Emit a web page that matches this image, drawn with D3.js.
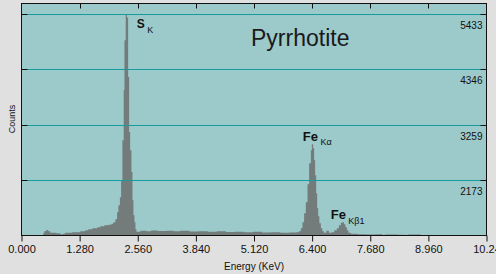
<!DOCTYPE html>
<html><head><meta charset="utf-8">
<script src="https://cdn.jsdelivr.net/npm/d3@7"></script>
<style>html,body{margin:0;padding:0;background:#e0e0e0;}svg{display:block;}</style>
</head><body><svg id="c" width="496" height="274"></svg>
<script>
const energyTicks = [0, 1.28, 2.56, 3.84, 5.12, 6.4, 7.68, 8.96, 10.24];
const energyTickLabels = ["0.000","1.280","2.560","3.840","5.120","6.400","7.680","8.960","10.24"];
const countTicks = [2173, 3259, 4346, 5433];
const countTickLabels = ["2173","3259","4346","5433"];
const countMin = 1086.6, countMax = 5649;

// spectrum: channel start energy (keV) and counts (step)
const energies = [0.00,0.48,0.50,0.545,0.59,0.633,0.766,0.854,0.92,0.964,1.119,1.295,1.405,1.472,1.56,1.671,1.737,1.825,1.913,1.98,
  2.024,2.068,2.105,2.134,2.167,2.194,2.222,2.251,2.267,2.295,2.322,2.348,2.37,2.392,2.421,2.443,2.465,2.487,2.509,2.531,
  2.62,2.75,2.85,3.0,3.2,3.35,3.5,3.7,3.9,4.1,4.3,4.5,4.7,4.9,5.1,5.3,5.5,5.7,5.9,6.05,6.107,
  6.151,6.188,6.224,6.261,6.299,6.334,6.372,6.394,6.422,6.444,6.466,6.489,6.511,6.533,6.559,6.592,6.625,6.659,6.714,6.769,
  6.835,6.89,6.945,6.989,7.034,7.067,7.1,7.133,7.166,7.199,7.254,7.4,7.6,7.8,7.95,8.0,8.3,8.45,8.5,8.79,10.24];
const counts = [1087,1132,1171,1197,1171,1142,1132,1112,1122,1142,1151,1171,1191,1210,1230,1250,1269,1289,1299,1318,
  1348,1407,1544,1682,1839,2173,2959,3941,4924,5425,5376,4203,3122,2763,2336,1780,1485,1348,1210,1161,
  1181,1171,1185,1175,1181,1171,1178,1165,1171,1161,1168,1155,1161,1151,1158,1146,1151,1142,1148,1151,1171,
  1230,1348,1525,1741,2095,2507,2763,2881,2802,2566,2271,1918,1623,1466,1328,1230,1171,1142,1181,1142,
  1151,1191,1230,1289,1338,1348,1309,1250,1191,1142,1122,1112,1106,1112,1087,1106,1102,1087,1106,1087,1087];

const peakNames = ["S","Fe","Fe"];
const peakSubs = ["K","K\u03b1","K\u03b21"];
const peakLabelE = [2.537, 6.193, 6.809];
const peakLabelC = [5161, 2951, 1405];

const svg = d3.select("#c");
const L = 21.5, R = 486.5, T = 3.5, B = 235.5;
const x = d3.scaleLinear().domain([0, 10.24]).range([L, R]);
const y = d3.scaleLinear().domain([countMin, countMax]).range([B, T]);

svg.append("rect").attr("x", L).attr("y", T).attr("width", R - L).attr("height", B - T).attr("fill", "#9cc9c9");

const data = energies.map((e, i) => ({e, c: counts[i]}));
svg.append("path").datum(data)
  .attr("fill", "#737b7b")
  .attr("d", d3.area().curve(d3.curveStepAfter).x(d => x(d.e)).y0(B).y1(d => y(d.c)));

// gridlines
svg.selectAll(".grid").data(countTicks).join("line")
  .attr("x1", L).attr("x2", R)
  .attr("y1", d => Math.floor(y(d)) + 0.5).attr("y2", d => Math.floor(y(d)) + 0.5)
  .attr("stroke", "#169c9c").attr("stroke-width", 1);

// frame
svg.append("rect").attr("x", L).attr("y", T).attr("width", R - L).attr("height", B - T)
  .attr("fill", "none").attr("stroke", "#111").attr("stroke-width", 1);

// bottom axis
const xAxis = d3.axisBottom(x).tickValues(energyTicks).tickSize(6).tickPadding(4)
  .tickFormat((d, i) => energyTickLabels[i]);
const gx = svg.append("g").attr("transform", `translate(0,${B})`).call(xAxis);
gx.select(".domain").remove();
gx.selectAll("line").attr("stroke", "#111");
gx.selectAll("text").attr("fill", "#111").style("font-family", "Liberation Sans, Arial, sans-serif").style("font-size", "11px");

// top ticks (inward)
svg.selectAll(".tt").data(energyTicks.slice(1, -1)).join("line")
  .attr("x1", d => Math.round(x(d)) + 0.5).attr("x2", d => Math.round(x(d)) + 0.5)
  .attr("y1", T).attr("y2", T + 5).attr("stroke", "#111");

// left and right ticks (inward)
svg.selectAll(".lt").data(countTicks).join("line")
  .attr("x1", L).attr("x2", L + 6)
  .attr("y1", d => Math.floor(y(d)) + 0.5).attr("y2", d => Math.floor(y(d)) + 0.5).attr("stroke", "#111");
svg.selectAll(".rt").data(countTicks).join("line")
  .attr("x1", R - 6).attr("x2", R)
  .attr("y1", d => Math.floor(y(d)) + 0.5).attr("y2", d => Math.floor(y(d)) + 0.5).attr("stroke", "#111");

// right count labels (below each gridline)
svg.selectAll(".rl").data(countTicks).join("text")
  .attr("x", R - 4).attr("y", d => Math.floor(y(d)) + 14.5)
  .attr("text-anchor", "end").attr("fill", "#111")
  .style("font-family", "Liberation Sans, Arial, sans-serif").style("font-size", "10px")
  .text((d, i) => countTickLabels[i]);

// axis titles
svg.append("text").attr("x", (L + R) / 2).attr("y", 270).attr("text-anchor", "middle")
  .attr("fill", "#111").style("font-family", "Liberation Sans, Arial, sans-serif").style("font-size", "10px")
  .text("Energy (KeV)");
svg.append("text").attr("transform", "translate(15,119) rotate(-90)").attr("text-anchor", "middle")
  .attr("fill", "#111").style("font-family", "Liberation Sans, Arial, sans-serif").style("font-size", "9px")
  .text("Counts");

// title
svg.append("text").attr("x", 251).attr("y", 45.5).attr("fill", "#1a1a1a")
  .style("font-family", "Liberation Sans, Arial, sans-serif").style("font-size", "23px")
  .text("Pyrrhotite");

// peak labels
peakNames.forEach((n, i) => {
  const t = svg.append("text").attr("x", x(peakLabelE[i])).attr("y", y(peakLabelC[i]))
    .attr("fill", "#111").style("font-family", "Liberation Sans, Arial, sans-serif");
  t.append("tspan").style("font-weight", "bold").style("font-size", i === 0 ? "12px" : "13px").text(n);
  t.append("tspan").attr("dx", 2.5).attr("dy", 4.5).style("font-size", "9px").text(peakSubs[i]);
});
</script></body></html>
